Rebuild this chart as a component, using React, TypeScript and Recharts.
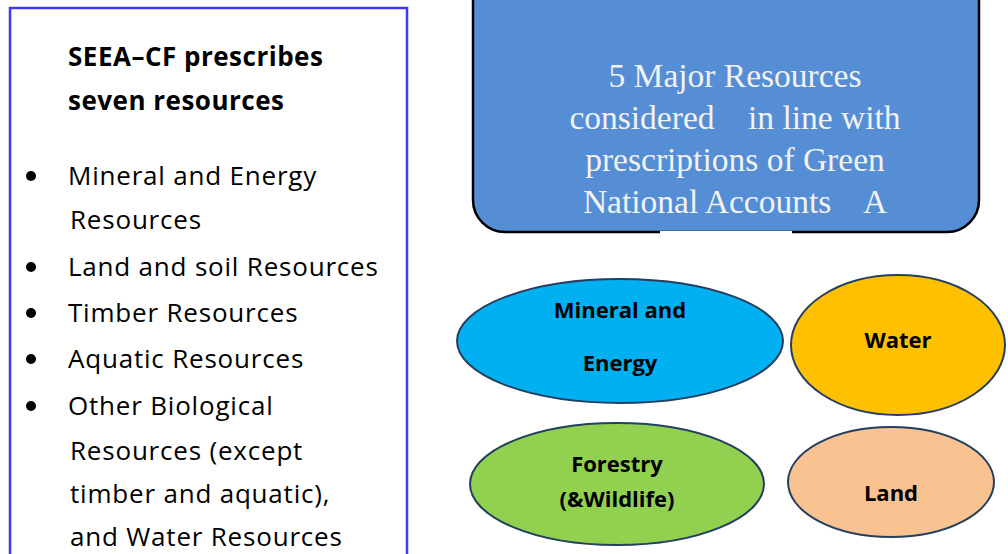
import React from "react";
import { ScatterChart, Scatter, XAxis, YAxis, Customized } from "recharts";

// ---- data ----
const resourceNames = ["Mineral and Energy", "Water", "Forestry (&Wildlife)", "Land"];
const resourceCenterX = [620, 898, 617, 891];
const resourceCenterY = [341, 345, 484, 482];

const titleLines = ["SEEA\u2013CF prescribes", "seven resources"];
const bulletItems = [
  ["Mineral and Energy", "Resources"],
  ["Land and soil Resources"],
  ["Timber Resources"],
  ["Aquatic Resources"],
  ["Other Biological", "Resources (except", "timber and aquatic),", "and Water Resources"],
];
const headerLines = [
  "5 Major Resources",
  "considered    in line with",
  "prescriptions of Green",
  "National Accounts    A",
];

// ---- styles ----
const W = 1008;
const H = 554;
const SANS = "'Open Sans', Lato, sans-serif";
const ellipseStyle: Record<string, { rx: number; ry: number; fill: string; lines: string[]; dy: number[] }> = {
  "Mineral and Energy": { rx: 163, ry: 62, fill: "#00b0f0", lines: ["Mineral and", "Energy"], dy: [-31, 22] },
  Water: { rx: 107, ry: 70, fill: "#ffc000", lines: ["Water"], dy: [-5] },
  "Forestry (&Wildlife)": { rx: 147, ry: 61, fill: "#92d050", lines: ["Forestry", "(&Wildlife)"], dy: [-20, 15] },
  Land: { rx: 103, ry: 55, fill: "#f8c291", lines: ["Land"], dy: [11] },
};

const points = resourceNames.map((name, i) => ({ name, x: resourceCenterX[i], y: resourceCenterY[i] }));

const ResourceEllipse = (props: any) => {
  const { cx, cy, payload } = props;
  const s = ellipseStyle[payload.name];
  return (
    <g>
      <ellipse cx={cx} cy={cy} rx={s.rx} ry={s.ry} fill={s.fill} stroke="#243f60" strokeWidth={2} />
      {s.lines.map((t, i) => (
        <text
          key={i}
          x={cx}
          y={cy + s.dy[i]}
          dy="0.35em"
          textAnchor="middle"
          fontFamily={SANS}
          fontWeight="bold"
          fontSize={22}
          fill="#000"
        >
          {t}
        </text>
      ))}
    </g>
  );
};

const StaticBoxes = () => {
  const lineYs: number[][] = [[176, 220], [267], [313], [359], [406, 451, 494, 537]];
  return (
    <g>
      {/* left box */}
      <rect x={10} y={8} width={397} height={580} fill="#fff" stroke="#3b3bf5" strokeWidth={2.5} />
      {titleLines.map((t, i) => (
        <text
          key={"t" + i}
          x={68}
          y={57 + i * 44}
          dy="0.35em"
          fontFamily={SANS}
          fontWeight="bold"
          fontSize={26}
          letterSpacing={0.5}
          fill="#000"
        >
          {t}
        </text>
      ))}
      {bulletItems.map((lines, i) => (
        <g key={"b" + i}>
          <circle cx={31} cy={lineYs[i][0]} r={5} fill="#000" />
          {lines.map((t, j) => (
            <text
              key={j}
              x={j === 0 ? 68 : 70}
              y={lineYs[i][j]}
              dy="0.35em"
              fontFamily={SANS}
              fontSize={26}
              letterSpacing={0.8}
              fill="#000"
            >
              {t}
            </text>
          ))}
        </g>
      ))}
      {/* blue header box */}
      <rect x={473} y={-30} width={506} height={262} rx={32} ry={32} fill="#558ed5" stroke="#000" strokeWidth={2.5} />
      <rect x={660} y={231} width={132} height={5} fill="#fff" />
      {headerLines.map((t, i) => (
        <text
          key={"h" + i}
          x={735}
          y={75 + i * 42}
          dy="0.35em"
          textAnchor="middle"
          fontFamily="'Liberation Serif', 'Times New Roman', serif"
          fontSize={33.5}
          fill="#f2f2f2"
          style={{ whiteSpace: "pre" }}
        >
          {t}
        </text>
      ))}
    </g>
  );
};

export default function App() {
  return (
    <div style={{ position: "absolute", left: 0, top: 0, width: W, height: H, overflow: "hidden", background: "#fff" }}>
      <ScatterChart width={W} height={H} margin={{ top: 0, right: 0, bottom: 0, left: 0 }}>
        <XAxis type="number" dataKey="x" domain={[0, W]} hide />
        <YAxis type="number" dataKey="y" domain={[0, H]} reversed hide />
        <Customized component={StaticBoxes} />
        <Scatter data={points} shape={ResourceEllipse} isAnimationActive={false} />
      </ScatterChart>
    </div>
  );
}
